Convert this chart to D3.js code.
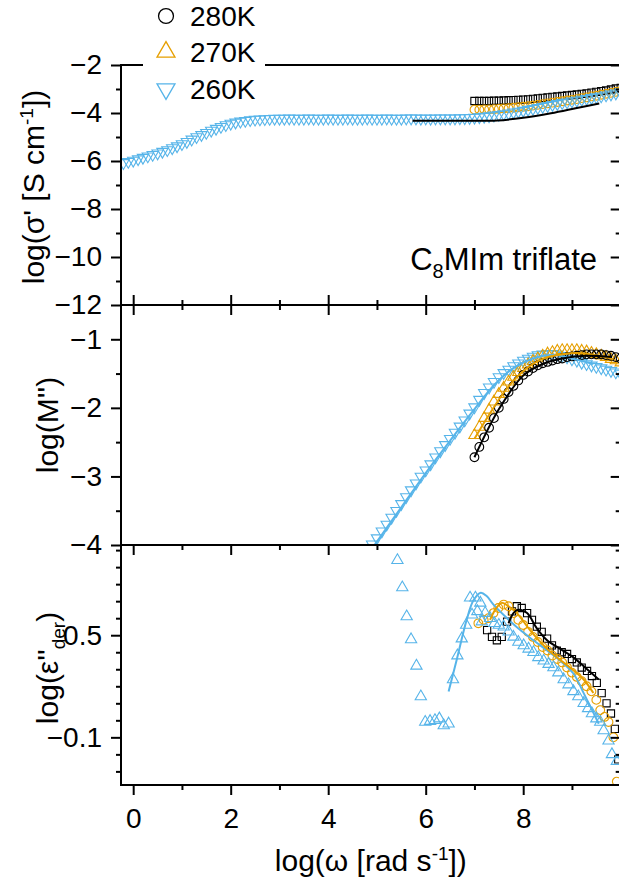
<!DOCTYPE html>
<html>
<head>
<meta charset="utf-8">
<title>C8MIm triflate</title>
<style>
  body { margin: 0; background: #fff; }
  svg { display: block; font-family: "Liberation Sans", Arial, sans-serif; }
</style>
<script src="https://cdn.jsdelivr.net/npm/d3@7"></script>
</head>
<body>
<script>
// frequency grid step in log(omega)
const step = 0.1;

// ---- top panel: log(sigma') ----
const sig260Start = -0.2;
const sig260 = [
  -6.08, -6.03, -5.98, -5.92, -5.86, -5.80, -5.74, -5.68, -5.61, -5.54,
  -5.46, -5.38, -5.29, -5.20, -5.10, -5.00, -4.91, -4.82, -4.73, -4.65,
  -4.57, -4.50, -4.44, -4.39, -4.35, -4.32, -4.29, -4.27, -4.26, -4.25,
  -4.24, -4.23, -4.23, -4.23, -4.22, -4.23, -4.23, -4.23, -4.22, -4.23,
  -4.23, -4.23, -4.22, -4.23, -4.23, -4.23, -4.22, -4.23, -4.23, -4.23,
  -4.22, -4.23, -4.23, -4.23, -4.22, -4.23, -4.23, -4.23, -4.22, -4.22,
  -4.22, -4.23, -4.22, -4.23, -4.22, -4.22, -4.22, -4.22, -4.22, -4.21,
  -4.21, -4.20, -4.19, -4.17, -4.15, -4.13, -4.10, -4.07, -4.04, -4.01,
  -3.97, -3.94, -3.90, -3.86, -3.82, -3.78, -3.74, -3.70, -3.66, -3.62,
  -3.58, -3.55, -3.51, -3.48, -3.44, -3.41, -3.37, -3.34, -3.30, -3.26,
  -3.22, -3.18, -3.14
];
const sig280Start = 7.0;
const sig280 = [
  -3.50, -3.50, -3.50, -3.50, -3.49, -3.49, -3.48, -3.47, -3.46, -3.45,
  -3.44, -3.43, -3.41, -3.39, -3.37, -3.35, -3.33, -3.31, -3.29, -3.27,
  -3.25, -3.23, -3.20, -3.18, -3.15, -3.12, -3.09, -3.06, -3.02, -2.98, -2.95
];
const sig270Start = 7.0;
const sig270 = [
  -3.86, -3.86, -3.85, -3.85, -3.84, -3.83, -3.81, -3.80, -3.78, -3.76,
  -3.74, -3.72, -3.69, -3.66, -3.63, -3.60, -3.57, -3.54, -3.51, -3.48,
  -3.45, -3.42, -3.38, -3.35, -3.31, -3.28, -3.24, -3.20, -3.16, -3.12, -3.08
];
const sigFit = [[5.73, -4.32], [6.5, -4.32], [7.47, -4.31], [8.0, -4.2], [8.57, -4.01], [9.1, -3.79], [9.56, -3.6]];

// ---- middle panel: log(M'') ----
const mod280Start = 7.0;
const mod280 = [
  -2.72, -2.57, -2.43, -2.29, -2.15, -2.00, -1.87, -1.77, -1.68, -1.60,
  -1.52, -1.47, -1.42, -1.38, -1.35, -1.33, -1.31, -1.29, -1.28, -1.26,
  -1.25, -1.24, -1.23, -1.22, -1.22, -1.22, -1.22, -1.23, -1.24, -1.26, -1.28
];
const mod270Start = 7.0;
const mod270 = [
  -2.40, -2.28, -2.15, -2.03, -1.91, -1.80, -1.71, -1.62, -1.55, -1.48,
  -1.42, -1.37, -1.32, -1.28, -1.24, -1.21, -1.19, -1.17, -1.16, -1.16,
  -1.16, -1.16, -1.17, -1.18, -1.20, -1.22, -1.24, -1.26, -1.29, -1.31, -1.34
];
const mod260Start = 4.8;
const mod260 = [
  -4.08, -3.99, -3.90, -3.80, -3.70, -3.60, -3.50, -3.40, -3.30, -3.20,
  -3.10, -3.00, -2.91, -2.82, -2.72, -2.63, -2.54, -2.45, -2.36, -2.27,
  -2.18, -2.08, -1.99, -1.88, -1.78, -1.70, -1.62, -1.55, -1.49, -1.44,
  -1.39, -1.35, -1.31, -1.28, -1.25, -1.23, -1.22, -1.21, -1.21, -1.22,
  -1.24, -1.26, -1.29, -1.31, -1.34, -1.36, -1.38, -1.40, -1.42, -1.44,
  -1.46, -1.48, -1.50
];
const modFit280 = [[7.0, -2.72], [7.5, -2.02], [8.0, -1.53], [8.4, -1.36], [8.8, -1.28], [9.3, -1.24], [9.82, -1.26]];
const modFit270 = [[7.0, -2.45], [7.3, -2.1], [7.6, -1.78], [7.9, -1.53], [8.2, -1.36], [8.5, -1.26], [8.8, -1.22], [9.1, -1.2], [9.4, -1.22], [9.85, -1.29]];
const modFit260 = [[4.95, -4.0], [5.5, -3.45], [6.0, -2.95], [6.5, -2.48], [7.0, -2.02], [7.4, -1.67], [7.8, -1.42], [8.2, -1.28], [8.6, -1.23], [9.0, -1.28], [9.44, -1.36]];

// ---- bottom panel: log(eps''_der) ----
const der260 = [
  [5.42, 0.94], [5.52, 0.78], [5.61, 0.61], [5.70, 0.475], [5.81, 0.32], [5.90, 0.14],
  [5.99, -0.01], [6.09, -0.005], [6.19, 0.0], [6.28, 0.01], [6.37, -0.03], [6.47, -0.02],
  [6.56, 0.24], [6.65, 0.38], [6.74, 0.48], [6.83, 0.56], [6.91, 0.72], [6.95, 0.62],
  [7.02, 0.72], [7.06, 0.64], [7.12, 0.69], [7.15, 0.58], [7.22, 0.63], [7.32, 0.60],
  [7.41, 0.57], [7.50, 0.56], [7.60, 0.55], [7.70, 0.52], [7.80, 0.49], [7.90, 0.46],
  [8.01, 0.44], [8.11, 0.42], [8.21, 0.40], [8.31, 0.37], [8.42, 0.35], [8.52, 0.33],
  [8.62, 0.31], [8.72, 0.28], [8.83, 0.24], [8.93, 0.21], [9.03, 0.17], [9.13, 0.14],
  [9.24, 0.10], [9.33, 0.07], [9.41, 0.04], [9.50, 0.01], [9.58, -0.01], [9.65, -0.06],
  [9.75, -0.12], [9.82, -0.20], [9.92, -0.24]
];
const der270 = [
  [7.08, 0.57], [7.19, 0.59], [7.29, 0.60], [7.39, 0.63], [7.49, 0.66], [7.6, 0.68],
  [7.7, 0.67], [7.8, 0.63], [7.9, 0.59], [8.0, 0.56], [8.1, 0.52], [8.2, 0.49],
  [8.3, 0.46], [8.4, 0.43], [8.5, 0.41], [8.6, 0.38], [8.7, 0.36], [8.8, 0.34],
  [8.9, 0.31], [9.0, 0.28], [9.1, 0.255], [9.2, 0.23], [9.3, 0.20], [9.4, 0.17],
  [9.5, 0.12], [9.58, 0.06], [9.67, 0.02], [9.75, -0.01], [9.85, -0.10], [9.92, -0.36]
];
const der280 = [
  [7.26, 0.53], [7.36, 0.49], [7.46, 0.47], [7.56, 0.49], [7.67, 0.58], [7.77, 0.64],
  [7.87, 0.67], [7.97, 0.66], [8.08, 0.63], [8.18, 0.59], [8.28, 0.55], [8.38, 0.52],
  [8.49, 0.48], [8.59, 0.44], [8.69, 0.41], [8.79, 0.40], [8.9, 0.39], [9.0, 0.36],
  [9.1, 0.34], [9.2, 0.31], [9.31, 0.29], [9.41, 0.26], [9.51, 0.22], [9.61, 0.16],
  [9.71, 0.10], [9.8, 0.04], [9.88, -0.05], [9.95, -0.23]
];
const derFit260 = [[6.47, 0.17], [6.64, 0.36], [6.84, 0.59], [6.98, 0.705], [7.13, 0.75], [7.25, 0.73], [7.39, 0.68], [7.67, 0.60], [7.94, 0.53], [8.21, 0.47], [8.49, 0.41], [8.76, 0.35], [9.03, 0.275], [9.24, 0.16], [9.55, -0.02]];
const derFit270 = [[7.32, 0.59], [7.45, 0.66], [7.56, 0.69], [7.7, 0.67], [7.87, 0.63], [8.14, 0.53], [8.42, 0.44], [8.69, 0.37], [8.96, 0.31], [9.24, 0.24], [9.44, 0.16]];
const derFit280 = [[7.7, 0.57], [7.8, 0.63], [7.9, 0.65], [8.08, 0.63], [8.28, 0.54], [8.49, 0.47], [8.76, 0.42], [9.03, 0.37], [9.31, 0.30], [9.55, 0.24]];

// legend / labels
const legendLabels = ["280K", "270K", "260K"];
const xTicks = [0, 2, 4, 6, 8, 10];
const xLabelled = [0, 2, 4, 6, 8];
const xMinor = [1, 3, 5, 7, 9];
const sigTicks = [-2, -4, -6, -8, -10, -12];
const sigMinor = [-3, -5, -7, -9, -11];
const modTicks = [-1, -2, -3, -4];
const modMinor = [-1.5, -2.5, -3.5];
const derTicks = [0.5, -0.1];
const derMinor = [1.0, 0.9, 0.8, 0.7, 0.6, 0.4, 0.3, 0.2, 0.1, 0.0, -0.2, -0.3];

const black = "#000000", orange = "#E69F00", blue = "#56B4E9";

const width = 619, height = 884;
const left = 121, right = 620.7;
const panels = [
  { top: 65, bottom: 305 },
  { top: 305, bottom: 545 },
  { top: 545, bottom: 785 }
];

const svg = d3.select("body").append("svg")
  .attr("width", width)
  .attr("height", height);

const x = d3.scaleLinear().domain([-0.25, 10]).range([left, right]);
const ySig = d3.scaleLinear().domain([-12, -2]).range([panels[0].bottom, panels[0].top]);
const yMod = d3.scaleLinear().domain([-4, -0.5]).range([panels[1].bottom, panels[1].top]);
const yDer = d3.scaleLinear().domain([-0.38, 1.03]).range([panels[2].bottom, panels[2].top]);

function grid(start, vals) {
  return vals.map((v, i) => [start + i * step, v]);
}

// clip paths
const defs = svg.append("defs");
panels.forEach((p, i) => {
  defs.append("clipPath").attr("id", "clip" + i)
    .append("rect")
    .attr("x", left).attr("y", p.top)
    .attr("width", right - left).attr("height", p.bottom - p.top);
});

function drawMarkers(g, data, y, type, color, size, rot) {
  const sym = d3.symbol().type(type).size(size);
  g.selectAll(null)
    .data(data)
    .enter()
    .append("path")
    .attr("d", sym)
    .attr("transform", d => `translate(${x(d[0])},${y(d[1])}) rotate(${rot || 0})`)
    .attr("fill", "none")
    .attr("stroke", color)
    .attr("stroke-width", 1.1);
}

function drawLine(g, data, y, color) {
  g.append("path")
    .datum(data)
    .attr("d", d3.line().x(d => x(d[0])).y(d => y(d[1])).curve(d3.curveCatmullRom))
    .attr("fill", "none")
    .attr("stroke", color)
    .attr("stroke-width", 2);
}

// ---- data ----
const g0 = svg.append("g").attr("clip-path", "url(#clip0)");
drawMarkers(g0, grid(sig280Start, sig280), ySig, d3.symbolSquare, black, 52);
drawMarkers(g0, grid(sig270Start, sig270), ySig, d3.symbolCircle, orange, 60);
drawMarkers(g0, grid(sig260Start, sig260), ySig, d3.symbolTriangle, blue, 55, 180);
drawLine(g0, sigFit, ySig, black);

const g1 = svg.append("g").attr("clip-path", "url(#clip1)");
drawMarkers(g1, grid(mod260Start, mod260), yMod, d3.symbolTriangle, blue, 55, 180);
drawMarkers(g1, grid(mod270Start, mod270), yMod, d3.symbolTriangle, orange, 55);
drawMarkers(g1, grid(mod280Start, mod280), yMod, d3.symbolCircle, black, 60);
drawLine(g1, modFit260, yMod, blue);
drawLine(g1, modFit270, yMod, orange);
drawLine(g1, modFit280, yMod, black);

const g2 = svg.append("g").attr("clip-path", "url(#clip2)");
drawMarkers(g2, der280, yDer, d3.symbolSquare, black, 52);
drawMarkers(g2, der270, yDer, d3.symbolCircle, orange, 60);
drawMarkers(g2, der260, yDer, d3.symbolTriangle, blue, 55);
drawLine(g2, derFit260, yDer, blue);
drawLine(g2, derFit270, yDer, orange);
drawLine(g2, derFit280, yDer, black);

// ---- axes ----
function styleAxis(g) {
  g.select(".domain").remove();
  g.selectAll(".tick line").attr("stroke", "#000").attr("stroke-width", 2);
  g.selectAll(".tick text").attr("fill", "#000");
  g.attr("font-size", 28).attr("font-family", null);
}

function yAxis(y, major, minor, fmt) {
  svg.append("g").attr("transform", `translate(${left},0)`)
    .call(d3.axisLeft(y).tickValues(major).tickSize(10).tickPadding(9).tickFormat(fmt))
    .call(styleAxis);
  svg.append("g").attr("transform", `translate(${left},0)`)
    .call(d3.axisLeft(y).tickValues(minor).tickSize(5).tickFormat(""))
    .call(styleAxis);
  svg.append("g").attr("transform", `translate(${right},0)`)
    .call(d3.axisRight(y).tickValues(major).tickSize(-10).tickFormat(""))
    .call(styleAxis);
  svg.append("g").attr("transform", `translate(${right},0)`)
    .call(d3.axisRight(y).tickValues(minor).tickSize(-5).tickFormat(""))
    .call(styleAxis);
}
yAxis(ySig, sigTicks, sigMinor, d3.format("d"));
yAxis(yMod, modTicks, modMinor, d3.format("d"));
yAxis(yDer, derTicks, derMinor, d3.format(".1f"));

// x ticks at the panel boundaries
function xTickRow(yPos, axisFn, withLabels) {
  svg.append("g").attr("transform", `translate(0,${yPos})`)
    .call(axisFn(x).tickValues(xTicks).tickSize(10).tickPadding(13)
      .tickFormat(d => withLabels && xLabelled.includes(d) ? d3.format("d")(d) : ""))
    .call(styleAxis);
  svg.append("g").attr("transform", `translate(0,${yPos})`)
    .call(axisFn(x).tickValues(xMinor).tickSize(5).tickFormat(""))
    .call(styleAxis);
}
xTickRow(305, d3.axisBottom, false);
xTickRow(305, d3.axisTop, false);
xTickRow(545, d3.axisBottom, false);
xTickRow(785, d3.axisBottom, true);

// frame
const frame = svg.append("g").attr("stroke", "#000").attr("stroke-width", 2).attr("fill", "none");
frame.append("line").attr("x1", left).attr("x2", left).attr("y1", 64).attr("y2", 786);
frame.append("line").attr("x1", right).attr("x2", right).attr("y1", 64).attr("y2", 786);
[65, 305, 545, 785].forEach(yy => {
  frame.append("line").attr("x1", left - 1).attr("x2", right + 1).attr("y1", yy).attr("y2", yy);
});

// ---- titles ----
function yTitle(xPos, yPos, build) {
  const t = svg.append("text")
    .attr("transform", `translate(${xPos},${yPos}) rotate(-90)`)
    .attr("text-anchor", "middle")
    .attr("font-size", 30)
    .attr("fill", "#000");
  build(t);
}
yTitle(44, 187, t => {
  t.append("tspan").text("log(σ' [S cm");
  t.append("tspan").attr("dy", -11).attr("font-size", 19).text("-1");
  t.append("tspan").attr("dy", 11).text("])");
});
yTitle(58, 425, t => {
  t.append("tspan").text("log(M'')");
});
yTitle(58, 668, t => {
  t.append("tspan").text("log(ε''");
  t.append("tspan").attr("dy", 7).attr("font-size", 19).text("der");
  t.append("tspan").attr("dy", -7).text(")");
});

const xt = svg.append("text")
  .attr("x", (left + right) / 2)
  .attr("y", 871)
  .attr("text-anchor", "middle")
  .attr("font-size", 30)
  .attr("fill", "#000");
xt.append("tspan").text("log(ω [rad s");
xt.append("tspan").attr("dy", -11).attr("font-size", 19).text("-1");
xt.append("tspan").attr("dy", 11).text("])");

// annotation
const ann = svg.append("text")
  .attr("x", 597).attr("y", 270)
  .attr("text-anchor", "end")
  .attr("font-size", 31)
  .attr("fill", "#000");
ann.append("tspan").text("C");
ann.append("tspan").attr("dy", 8).attr("font-size", 20).text("8");
ann.append("tspan").attr("dy", -8).text("MIm triflate");

// ---- legend ----
const legend = svg.append("g");
legend.append("rect")
  .attr("x", 143).attr("y", 0).attr("width", 122).attr("height", 104)
  .attr("fill", "#fff");
const legendSyms = [
  { type: d3.symbolCircle, color: black, size: 175, rot: 0 },
  { type: d3.symbolTriangle, color: orange, size: 140, rot: 0 },
  { type: d3.symbolTriangle, color: blue, size: 140, rot: 180 }
];
const legendY = [16, 52, 89];
legendLabels.forEach((lab, i) => {
  const s = legendSyms[i];
  legend.append("path")
    .attr("d", d3.symbol().type(s.type).size(s.size))
    .attr("transform", `translate(166,${legendY[i]}) rotate(${s.rot})`)
    .attr("fill", "none")
    .attr("stroke", s.color)
    .attr("stroke-width", 1.3);
  legend.append("text")
    .attr("x", 190).attr("y", legendY[i] + 10)
    .attr("font-size", 28)
    .attr("fill", "#000")
    .text(lab);
});
</script>
</body>
</html>
